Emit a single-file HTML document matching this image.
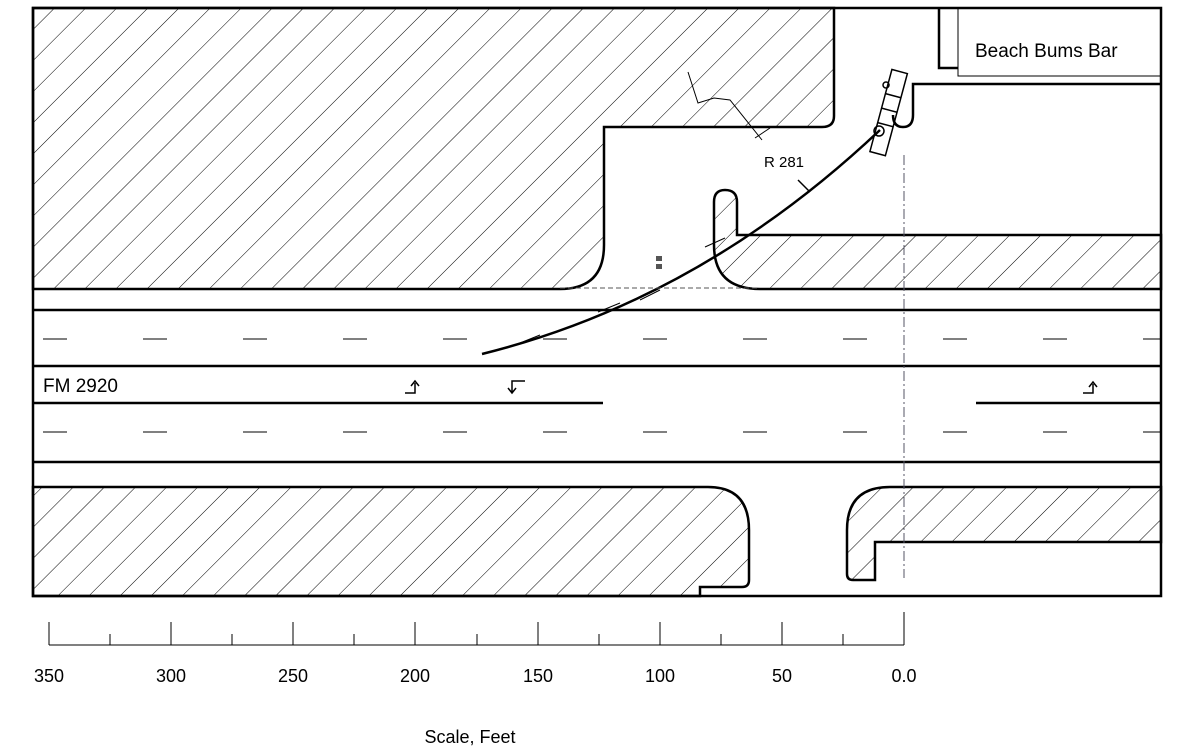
<!DOCTYPE html>
<html><head><style>html,body{margin:0;padding:0;background:#fff}svg{display:block}</style></head><body>
<svg width="1198" height="747" viewBox="0 0 1198 747" xmlns="http://www.w3.org/2000/svg" font-family="Liberation Sans, sans-serif">
<defs>
<pattern id="h" patternUnits="userSpaceOnUse" width="22" height="22" patternTransform="rotate(45)">
<line x1="0" y1="0" x2="0" y2="22" stroke="#000" stroke-width="1"/>
</pattern>
</defs>
<rect width="1198" height="747" fill="#fff"/>
<g stroke="#000" stroke-width="2.5" fill="url(#h)">
<path d="M33,8 L834,8 L834,116 Q834,127 822,127 L604,127 L604,245 Q604,289 560,289 L33,289 Z"/>
<path d="M737,235 L1161,235 L1161,289 L760,289 Q714,289 714,245 L714,202 Q714,190 725,190 Q737,190 737,202 Z"/>
<path d="M33,487 L708,487 Q749,487 749,530 L749,580 Q749,587 742,587 L700,587 L700,596 L33,596 Z"/>
<path d="M890,487 L1161,487 L1161,542 L875,542 L875,580 L853,580 Q847,580 847,574 L847,530 Q847,487 890,487 Z"/>
</g>
<g stroke="#000" stroke-width="2.5" fill="none">
<rect x="33" y="8" width="1128" height="588"/>
<path d="M939,8 L939,68 L958,68"/>
<path d="M1161,84 L913,84 L913,115 Q913,127 903,127 Q893,127 893,115"/>
<line x1="33" y1="310" x2="1161" y2="310"/>
<line x1="33" y1="366" x2="1161" y2="366"/>
<line x1="33" y1="403" x2="603" y2="403"/>
<line x1="976" y1="403" x2="1161" y2="403"/>
<line x1="33" y1="462" x2="1161" y2="462"/>
<path d="M482,354 Q700,300 880,130" stroke-width="2.5"/>
</g>
<rect x="958" y="8" width="203" height="68" fill="none" stroke="#000" stroke-width="1"/>
<g stroke="#000" stroke-width="1" stroke-dasharray="24,76">
<line x1="33" y1="339" x2="1161" y2="339" stroke-dashoffset="-10"/>
<line x1="33" y1="432" x2="1161" y2="432" stroke-dashoffset="-10"/>
</g>
<line x1="904" y1="155" x2="904" y2="578" stroke="#556" stroke-width="1" stroke-dasharray="10,3,2,3"/>
<line x1="560" y1="288" x2="760" y2="288" stroke="#555" stroke-width="1" stroke-dasharray="5,3"/>
<g transform="rotate(15 888 115)" stroke="#000" fill="none" stroke-width="1.5">
<rect x="880" y="70" width="16" height="85"/>
<line x1="880" y1="95" x2="896" y2="95"/><line x1="880" y1="110" x2="896" y2="110"/><line x1="880" y1="125" x2="896" y2="125"/>
</g>
<circle cx="879" cy="131" r="5" fill="none" stroke="#000" stroke-width="1.5"/>
<circle cx="886" cy="85" r="3" fill="none" stroke="#000" stroke-width="1.5"/>
<path d="M688,72 L698,103 L714,98 L730,100 L762,140" fill="none" stroke="#000" stroke-width="1"/>
<path d="M798,180 L810,192" stroke="#000" stroke-width="1.5"/>
<rect x="656" y="256" width="6" height="5" fill="#555"/><rect x="656" y="264" width="6" height="5" fill="#555"/>
<g stroke="#000" stroke-width="1">
<line x1="515" y1="345" x2="540" y2="335"/><line x1="598" y1="312" x2="620" y2="303"/><line x1="640" y1="300" x2="660" y2="290"/><line x1="705" y1="247" x2="725" y2="238"/><line x1="755" y1="138" x2="770" y2="128"/>
</g>
<text x="764" y="167" font-size="15">R 281</text>
<text x="975" y="57" font-size="19">Beach Bums Bar</text>
<text x="43" y="392" font-size="19">FM 2920</text>
<g stroke="#000" stroke-width="1.5" fill="none">
<path d="M405,393 L415,393 L415,383 M411,386 L415,381 L419,386"/>
<path d="M525,381 L512,381 L512,392 M508,388 L512,393 L516,388"/>
<path d="M1083,393 L1093,393 L1093,384 M1089,387 L1093,382 L1097,387"/>
</g>
<g stroke="#000" stroke-width="1">
<line x1="49" y1="645" x2="904" y2="645"/>
<line x1="49" y1="622" x2="49" y2="645"/><line x1="171" y1="622" x2="171" y2="645"/><line x1="293" y1="622" x2="293" y2="645"/><line x1="415" y1="622" x2="415" y2="645"/><line x1="538" y1="622" x2="538" y2="645"/><line x1="660" y1="622" x2="660" y2="645"/><line x1="782" y1="622" x2="782" y2="645"/><line x1="904" y1="612" x2="904" y2="645"/>
<line x1="110" y1="634" x2="110" y2="645"/><line x1="232" y1="634" x2="232" y2="645"/><line x1="354" y1="634" x2="354" y2="645"/><line x1="477" y1="634" x2="477" y2="645"/><line x1="599" y1="634" x2="599" y2="645"/><line x1="721" y1="634" x2="721" y2="645"/><line x1="843" y1="634" x2="843" y2="645"/>
</g>
<g font-size="18" text-anchor="middle">
<text x="49" y="682">350</text><text x="171" y="682">300</text><text x="293" y="682">250</text><text x="415" y="682">200</text><text x="538" y="682">150</text><text x="660" y="682">100</text><text x="782" y="682">50</text><text x="904" y="682">0.0</text>
<text x="470" y="743">Scale, Feet</text>
</g>
</svg>
</body></html>
